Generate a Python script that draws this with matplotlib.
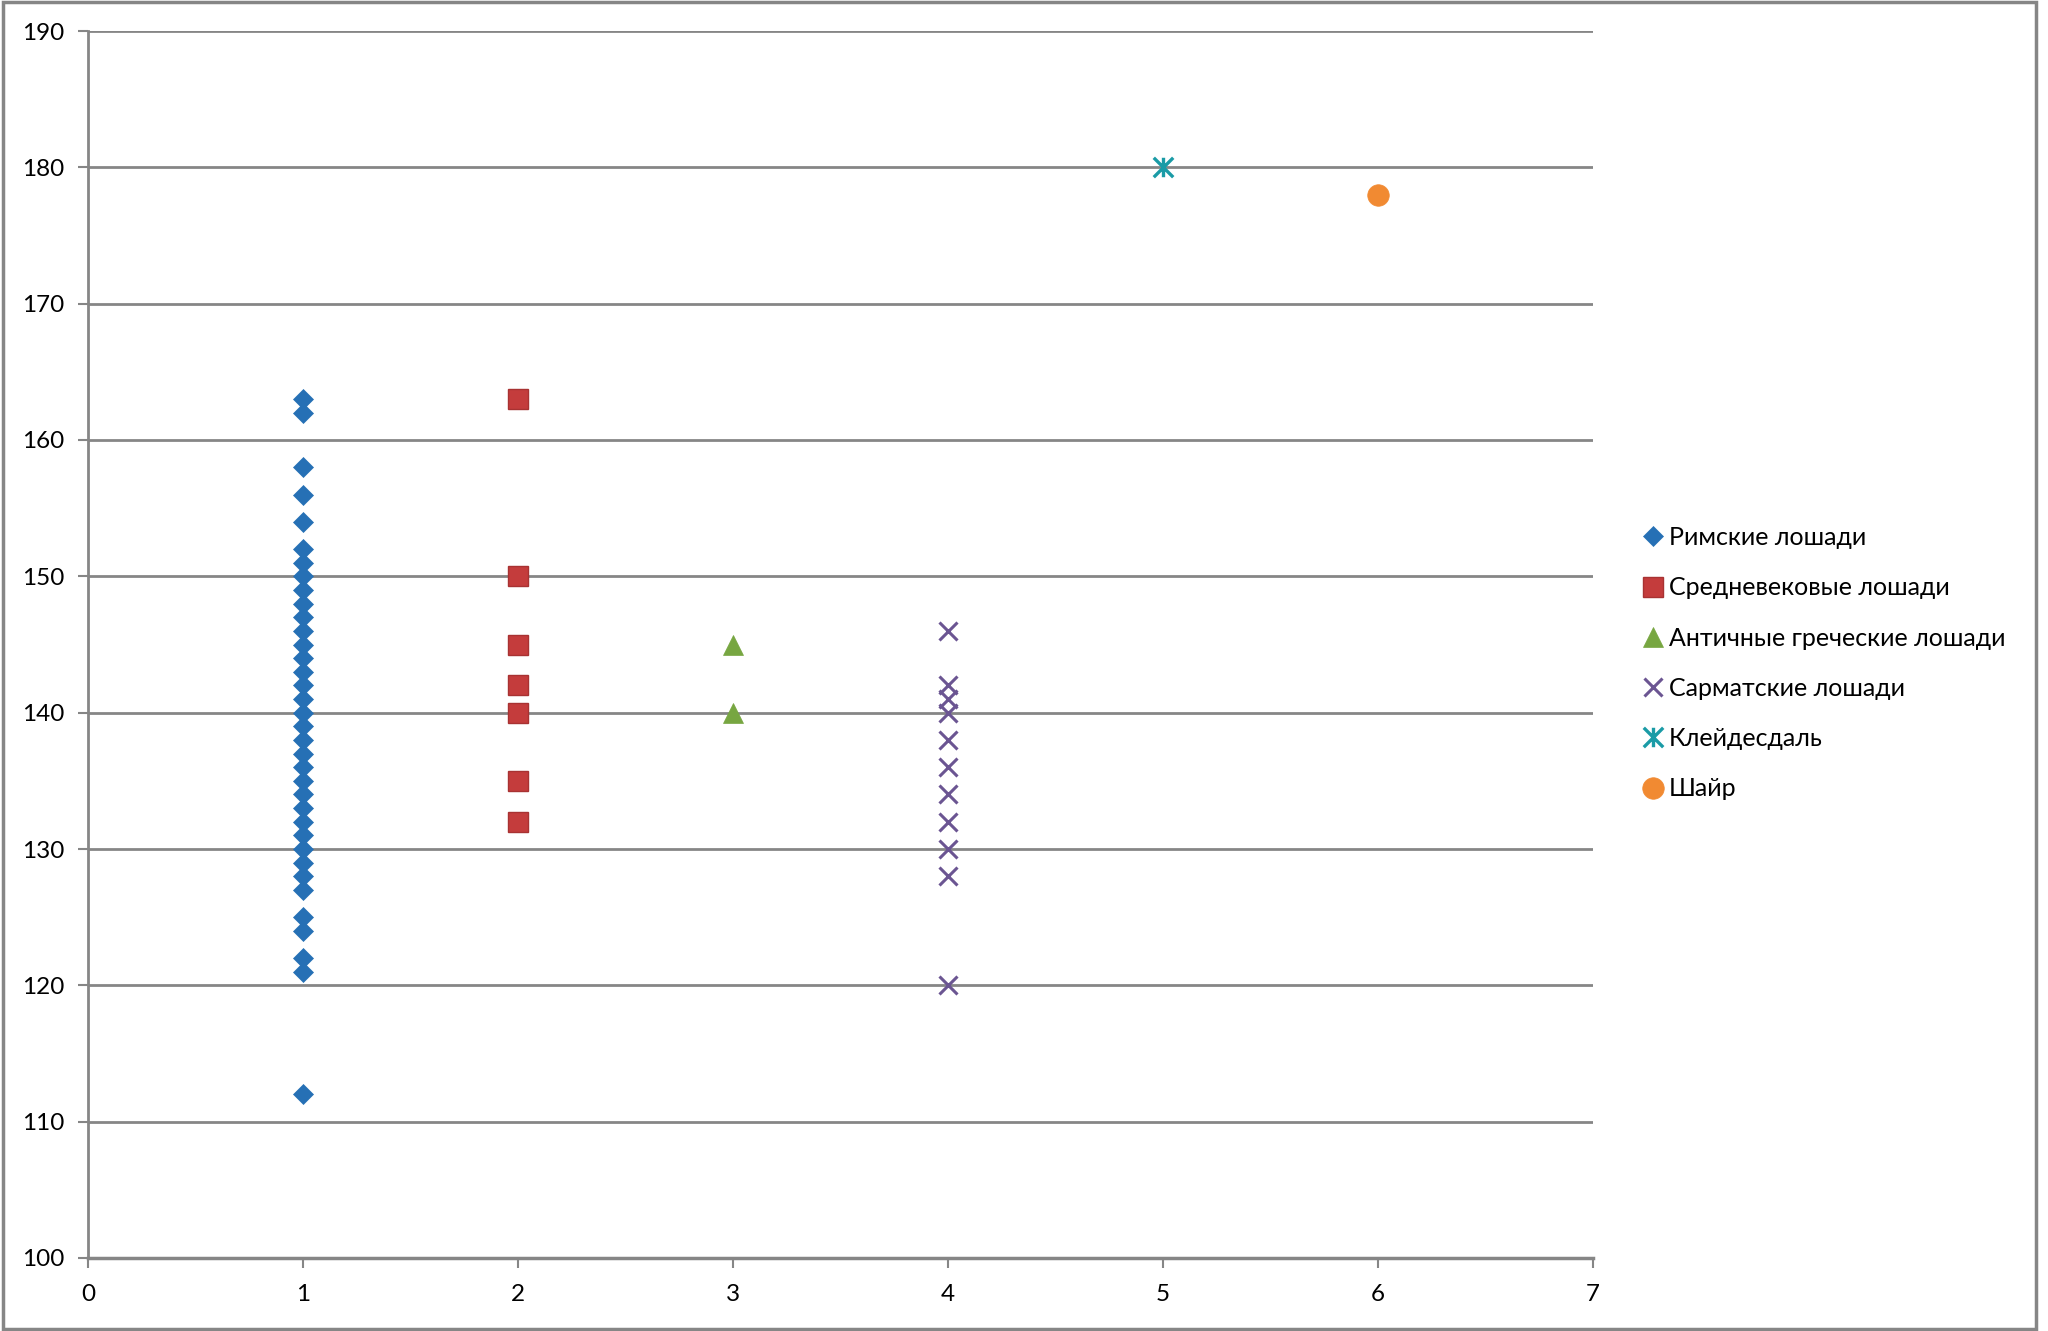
import matplotlib
matplotlib.use("Agg")
import matplotlib.pyplot as plt
from matplotlib.path import Path
from matplotlib.patches import Rectangle

plt.rcParams['font.family'] = ['Lato', 'DejaVu Sans']

# Data
roman_y = [163, 162, 158, 156, 154, 152, 151, 150, 149, 148, 147, 146, 145, 144,
           143, 142, 141, 140, 139, 138, 137, 136, 135, 134, 133, 132, 131, 130,
           129, 128, 127, 125, 124, 122, 121, 112]
medieval_y = [163, 150, 145, 142, 140, 135, 132]
greek_y = [145, 140]
sarmatian_y = [146, 142, 141, 140, 138, 136, 134, 132, 130, 128, 120]
clydesdale_y = [180]
shire_y = [178]

series = [
    ("Римские лошади", 1, roman_y),
    ("Средневековые лошади", 2, medieval_y),
    ("Античные греческие лошади", 3, greek_y),
    ("Сарматские лошади", 4, sarmatian_y),
    ("Клейдесдаль", 5, clydesdale_y),
    ("Шайр", 6, shire_y),
]

x_ticks = [0, 1, 2, 3, 4, 5, 6, 7]
y_ticks = [100, 110, 120, 130, 140, 150, 160, 170, 180, 190]

# Asterisk marker: X plus vertical line
ast = Path([(-0.5, -0.5), (0.5, 0.5), (-0.5, 0.5), (0.5, -0.5), (0, -0.5), (0, 0.5)],
           [Path.MOVETO, Path.LINETO, Path.MOVETO, Path.LINETO, Path.MOVETO, Path.LINETO])

styles = [
    dict(marker='D', color='#2670B5', ms=10.5, mec='#2670B5', mew=0.5),
    dict(marker='s', color='#C43C3C', ms=14.5, mec='#A83232', mew=1),
    dict(marker='^', color='#77A641', ms=14, mec='#77A641', mew=0.5),
    dict(marker='x', color='#6B5592', ms=13, mec='#6B5592', mew=2.2),
    dict(marker=ast, color='#1A9BA6', ms=14, mec='#1A9BA6', mew=2.4),
    dict(marker='o', color='#F18A32', ms=15.5, mec='#F18A32', mew=0.5),
]

fig = plt.figure(figsize=(20.48, 13.31), dpi=100)
ax = fig.add_axes([88 / 2048, 1 - 1258 / 1331, (1593 - 88) / 2048, (1258 - 31) / 1331])

handles = []
for (label, xv, ys), st in zip(series, styles):
    h, = ax.plot([xv] * len(ys), ys, linestyle='none', label=label, zorder=3,
                 marker=st['marker'], color=st['color'], markersize=st['ms'],
                 markeredgecolor=st['mec'], markeredgewidth=st['mew'])
    handles.append(h)

ax.set_xlim(0, 7)
ax.set_ylim(100, 190)
ax.set_xticks(x_ticks)
ax.set_yticks(y_ticks)
ax.set_xticklabels([str(v) for v in x_ticks])
ax.set_yticklabels([str(v) for v in y_ticks])
ax.tick_params(axis='both', labelsize=17.5, colors='#868686', labelcolor='black',
               length=7, width=1.5, direction='out')
ax.tick_params(axis='x', pad=12)
ax.tick_params(axis='y', pad=10)

ax.yaxis.grid(True, color='#868686', linewidth=2)
ax.set_axisbelow(True)
for s in ['top', 'right']:
    ax.spines[s].set_visible(False)
ax.spines['left'].set_color('#868686')
ax.spines['left'].set_linewidth(2)
ax.spines['bottom'].set_color('#868686')
ax.spines['bottom'].set_linewidth(2.5)

leg = fig.legend(handles=handles, loc='upper left',
                 bbox_to_anchor=(1645 / 2048, 1 - 526 / 1331),
                 frameon=False, fontsize=18, handlelength=0.6, handletextpad=0.35,
                 labelspacing=1.09, borderaxespad=0, borderpad=0)

# chart-area border
fig.patches.append(Rectangle((3 / 2048, 2 / 1331), (2036 - 3) / 2048, (1329 - 2) / 1331,
                             transform=fig.transFigure, fill=False,
                             edgecolor='#868686', linewidth=2.5))

fig.savefig('out.png', dpi=100)
